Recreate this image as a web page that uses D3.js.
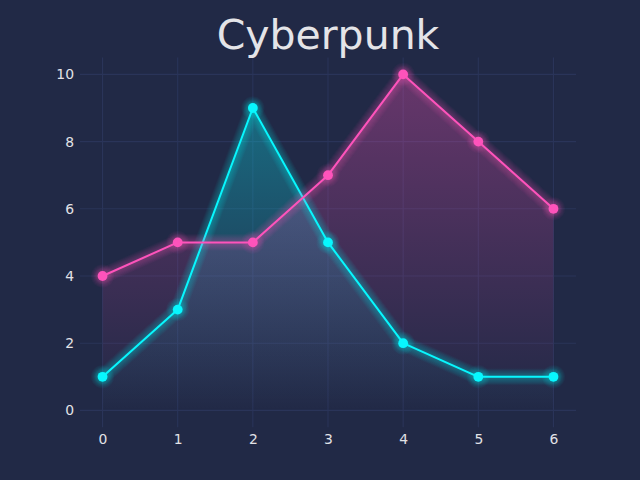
<!DOCTYPE html>
<html lang="en">
<head>
<meta charset="utf-8">
<title>Cyberpunk</title>
<script src="https://d3js.org/d3.v7.min.js"></script>
<style>
  html, body { margin: 0; padding: 0; background: #212946; }
  text { font-family: "DejaVu Sans", sans-serif; }
</style>
</head>
<body>
<script>
// chart data
var xValues = [0, 1, 2, 3, 4, 5, 6];
var cyanValues = [1, 3, 9, 5, 2, 1, 1];
var pinkValues = [4, 5, 5, 7, 10, 8, 6];
var xTicks = [0, 1, 2, 3, 4, 5, 6];
var yTicks = [0, 2, 4, 6, 8, 10];
var seriesColors = ["#08F7FE", "#FE53BB"];
var titleText = "Cyberpunk";

var w = 640, h = 480;
var margin = {top: 57.6, right: 64, bottom: 52.8, left: 80};

var svg = d3.select("body").append("svg")
  .attr("width", w)
  .attr("height", h);

svg.append("rect").attr("width", w).attr("height", h).attr("fill", "#212946");

var xScale = d3.scaleLinear().domain([-0.3, 6.3]).range([margin.left, w - margin.right]);
var yScale = d3.scaleLinear().domain([-0.5, 10.5]).range([h - margin.bottom, margin.top]);

var defs = svg.append("defs");

// grid
var grid = svg.append("g");
grid.selectAll(".gx").data(xTicks).enter().append("line")
  .attr("x1", d => xScale(d)).attr("x2", d => xScale(d))
  .attr("y1", yScale.range()[0]).attr("y2", yScale.range()[1])
  .attr("stroke", "#2A3459").attr("stroke-width", 1.1);
grid.selectAll(".gy").data(yTicks).enter().append("line")
  .attr("y1", d => yScale(d)).attr("y2", d => yScale(d))
  .attr("x1", xScale.range()[0]).attr("x2", xScale.range()[1])
  .attr("stroke", "#2A3459").attr("stroke-width", 1.1);

// axes (labels only)
var xAxis = svg.append("g")
  .attr("transform", `translate(0, ${h - margin.bottom})`)
  .call(d3.axisBottom(xScale).tickValues(xTicks).tickFormat(d3.format("d")).tickSize(0).tickPadding(6));
var yAxis = svg.append("g")
  .attr("transform", `translate(${margin.left}, 0)`)
  .call(d3.axisLeft(yScale).tickValues(yTicks).tickFormat(d3.format("d")).tickSize(0).tickPadding(6));
[xAxis, yAxis].forEach(function(a) {
  a.select(".domain").remove();
  a.selectAll("text")
    .attr("fill", "#E2E2E6")
    .style("font-size", "13.9px")
    .style("font-family", "DejaVu Sans, sans-serif");
});
xAxis.selectAll("text").attr("dy", "0.8em");

// title
svg.append("text")
  .attr("x", (xScale.range()[0] + xScale.range()[1]) / 2)
  .attr("y", 49)
  .attr("text-anchor", "middle")
  .attr("fill", "#E4E4E8")
  .style("font-size", "41px")
  .text(titleText);

var series = [cyanValues, pinkValues];

// gradient fills under each line
series.forEach(function(vals, si) {
  var color = seriesColors[si];
  var maxV = d3.max(vals);
  var grad = defs.append("linearGradient")
    .attr("id", "grad" + si)
    .attr("gradientUnits", "userSpaceOnUse")
    .attr("x1", 0).attr("x2", 0)
    .attr("y1", yScale(maxV)).attr("y2", yScale(0));
  grad.append("stop").attr("offset", 0).attr("stop-color", color).attr("stop-opacity", 0.32);
  grad.append("stop").attr("offset", 1).attr("stop-color", color).attr("stop-opacity", 0);

  var area = d3.area()
    .x((d, i) => xScale(xValues[i]))
    .y0(yScale(0))
    .y1(d => yScale(d));
  svg.append("path")
    .datum(vals)
    .attr("d", area)
    .attr("fill", "url(#grad" + si + ")");
});

// lines with glow
var line = d3.line()
  .x((d, i) => xScale(xValues[i]))
  .y(d => yScale(d));

series.forEach(function(vals, si) {
  var color = seriesColors[si];
  var g = svg.append("g");
  for (var k = 1; k <= 10; k++) {
    g.append("path")
      .datum(vals)
      .attr("d", line)
      .attr("fill", "none")
      .attr("stroke", color)
      .attr("stroke-opacity", 0.03)
      .attr("stroke-width", 2 + 1.46 * k)
      .attr("stroke-linejoin", "round")
      .attr("stroke-linecap", "round");
    g.selectAll(null).data(vals).enter().append("circle")
      .attr("cx", (d, i) => xScale(xValues[i]))
      .attr("cy", d => yScale(d))
      .attr("r", 4.4 + 0.73 * k)
      .attr("fill", color)
      .attr("fill-opacity", 0.03);
  }
  g.append("path")
    .datum(vals)
    .attr("d", line)
    .attr("fill", "none")
    .attr("stroke", color)
    .attr("stroke-width", 2)
    .attr("stroke-linejoin", "round");
  g.selectAll(null).data(vals).enter().append("circle")
    .attr("cx", (d, i) => xScale(xValues[i]))
    .attr("cy", d => yScale(d))
    .attr("r", 4.9)
    .attr("fill", color);
});
</script>
</body>
</html>
